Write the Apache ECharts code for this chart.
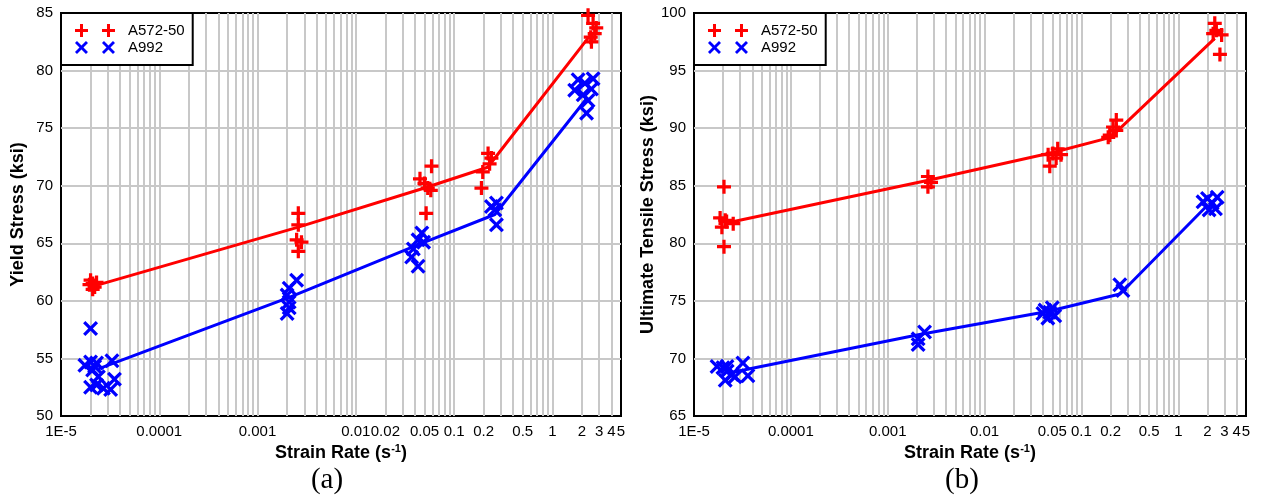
<!DOCTYPE html>
<html>
<head>
<meta charset="utf-8">
<title>Strain rate effect on A572-50 and A992</title>
<script src="https://cdn.jsdelivr.net/npm/echarts@6.0.0/dist/echarts.min.js"></script>
<style>
  html, body { margin: 0; padding: 0; background: #fff; }
  #main { width: 1262px; height: 501px; }
</style>
</head>
<body>
<div id="main"></div>
<script>
// (a) yield stress, points are [strain rate (1/s), ksi]
var yieldA572 = [
    [2.0e-5, 61.8], [2.1e-5, 61.5], [2.2e-5, 61.2], [2.1e-5, 61.0], [2.3e-5, 61.6], [1.95e-5, 61.4],
    [0.0026, 67.6], [0.0026, 66.6], [0.0025, 65.3], [0.0028, 65.1], [0.0026, 64.3],
    [0.045, 70.6], [0.05, 70.2], [0.054, 69.8], [0.058, 69.6], [0.059, 71.7], [0.052, 67.6],
    [0.19, 69.8], [0.196, 71.2], [0.222, 72.8], [0.24, 72.4], [0.23, 71.9],
    [2.31, 84.8], [2.6, 84.1], [2.8, 83.7], [2.46, 82.9], [2.5, 82.5], [2.7, 83.2]
];
var yieldA992 = [
    [1.75e-5, 54.4], [2.0e-5, 57.6], [2.0e-5, 54.7], [2.2e-5, 54.3], [2.3e-5, 54.6], [2.0e-5, 52.5],
    [2.4e-5, 53.4], [2.7e-5, 52.4], [3.2e-5, 52.3], [3.3e-5, 54.8], [3.5e-5, 53.2], [2.3e-5, 52.7], [2.1e-5, 54.0],
    [0.0025, 61.8], [0.0021, 61.1], [0.002, 60.5], [0.0021, 59.9], [0.0021, 59.4], [0.002, 58.9],
    [0.047, 65.9], [0.043, 65.3], [0.049, 65.1], [0.0385, 64.5], [0.037, 63.8], [0.043, 63.0],
    [0.24, 68.2], [0.27, 68.5], [0.26, 67.9], [0.27, 66.6],
    [1.83, 79.2], [1.69, 78.3], [2.14, 78.9], [2.6, 79.3], [2.5, 78.4], [2.31, 77.4], [2.23, 76.3], [2.06, 77.9]
];
var yieldA572Fit = [[2.2e-5, 61.3], [0.0026, 66.4], [0.05, 69.8], [0.22, 71.6], [2.45, 83.1]];
var yieldA992Fit = [[2.4e-5, 54.1], [0.0021, 60.3], [0.044, 64.9], [0.26, 67.5], [2.3, 77.7]];

// (b) ultimate tensile stress
var utsA572 = [
    [2.04e-5, 84.9], [1.86e-5, 82.2], [2.17e-5, 81.9], [2.54e-5, 81.7], [1.94e-5, 81.4], [2.04e-5, 79.7], [2.1e-5, 82.0],
    [0.0026, 85.8], [0.0028, 85.3], [0.0026, 84.9],
    [0.0569, 88.2], [0.0507, 87.8], [0.0616, 87.7], [0.0453, 87.7], [0.0471, 86.7], [0.0548, 87.4],
    [0.229, 90.7], [0.212, 90.1], [0.196, 89.4], [0.189, 89.2], [0.229, 89.8],
    [2.38, 99.1], [2.47, 98.5], [2.8, 98.1], [2.69, 96.4], [2.29, 98.2]
];
var utsA992 = [
    [1.73e-5, 69.3], [1.99e-5, 69.2], [2.19e-5, 69.3], [2.1e-5, 68.1], [2.47e-5, 68.6], [2.65e-5, 68.4],
    [3.2e-5, 69.6], [3.6e-5, 68.5], [2.2e-5, 68.9],
    [0.0024, 72.3], [0.00206, 71.7], [0.00206, 71.2],
    [0.042, 74.2], [0.047, 74.0], [0.045, 73.5], [0.05, 74.4], [0.04, 73.9], [0.053, 73.7],
    [0.249, 76.4], [0.268, 75.9],
    [1.8, 83.6], [2.0, 83.9], [2.24, 83.5], [2.52, 84.0], [2.08, 82.9], [2.42, 83.0]
];
var utsA572Fit = [[2.3e-5, 81.8], [0.0027, 85.5], [0.052, 87.9], [0.2, 89.2], [2.38, 97.8]];
var utsA992Fit = [[2.5e-5, 68.8], [0.0022, 72.1], [0.046, 74.1], [0.25, 75.6], [2.0, 83.3]];

// strain rate tick labels
var rateLabelsA = ['1E-5', '0.0001', '0.001', '0.01', '0.02', '0.05', '0.1', '0.2', '0.5', '1', '2', '3', '4', '5'];
var rateLabelsB = ['1E-5', '0.0001', '0.001', '0.01', '0.05', '0.1', '0.2', '0.5', '1', '2', '3', '4', '5'];
var rateRange = [1e-5, 5];
var yieldRange = [50, 85];
var utsRange = [65, 100];

var FONT = 'Liberation Sans, Arial, sans-serif';
var GRID_COLOR = '#c8c8c8';
var plusPath = 'path://M5,0h3v5h5v3h-5v5h-3v-5h-5v-3h5z';
var crossPath = 'path://M0,2L2,0L6.5,4.5L11,0L13,2L8.5,6.5L13,11L11,13L6.5,8.5L2,13L0,11L4.5,6.5z';
// legend shows two markers per entry
var plusPair = 'path://M5,0h3v5h5v3h-5v5h-3v-5h-5v-3h5zM32,0h3v5h5v3h-5v5h-3v-5h-5v-3h5zM48,6h0.01v0.01z';
var crossPair = 'path://M0,2L2,0L6.5,4.5L11,0L13,2L8.5,6.5L13,11L11,13L6.5,8.5L2,13L0,11L4.5,6.5z' +
    'M27,2L29,0L33.5,4.5L38,0L40,2L35.5,6.5L40,11L38,13L33.5,8.5L29,13L27,11L31.5,6.5zM48,6h0.01v0.01z';

// log grid lines 1..9 x 10^k, labelled where the figure has a label
function rateLines(labels) {
    var items = [];
    for (var k = -5; k <= 0; k++) {
        for (var m = 1; m <= 9; m++) {
            var v = Number((m * Math.pow(10, k)).toPrecision(6));
            if (v > rateRange[1] * 1.0001) continue;
            var txt = '';
            labels.forEach(function (l) {
                if (Math.abs(parseFloat(l) - v) < v * 1e-6) txt = l;
            });
            var edge = (v === rateRange[0] || v === rateRange[1]);
            items.push({
                xAxis: v,
                name: txt,
                lineStyle: { width: edge ? 0 : 2 },
                label: { show: txt !== '' }
            });
        }
    }
    return items;
}

function panelSeries(i, a572, a992, a572Fit, a992Fit, labels) {
    return [{
        type: 'line', name: 'grid' + i, xAxisIndex: i, yAxisIndex: i,
        data: [], clip: false, silent: true, z: 1,
        markLine: {
            silent: true, z: 1, symbol: 'none', animation: false, precision: 10,
            lineStyle: { type: 'solid', color: GRID_COLOR, width: 2 },
            label: {
                position: 'start', distance: 8, color: '#000', fontSize: 15, fontFamily: FONT,
                formatter: function (p) { return p.name; }
            },
            emphasis: { disabled: true },
            data: rateLines(labels)
        }
    }, {
        type: 'line', name: 'A572-50 fit', xAxisIndex: i, yAxisIndex: i,
        data: a572Fit, symbol: 'none', z: 2,
        lineStyle: { color: '#ff0000', width: 3 }, itemStyle: { color: '#ff0000' }
    }, {
        type: 'line', name: 'A992 fit', xAxisIndex: i, yAxisIndex: i,
        data: a992Fit, symbol: 'none', z: 2,
        lineStyle: { color: '#0000ff', width: 3 }, itemStyle: { color: '#0000ff' }
    }, {
        type: 'scatter', name: 'A572-50', xAxisIndex: i, yAxisIndex: i,
        data: a572, symbol: plusPath, symbolSize: 14, clip: false, z: 3,
        itemStyle: { color: '#ff0000', opacity: 1 }
    }, {
        type: 'scatter', name: 'A992', xAxisIndex: i, yAxisIndex: i,
        data: a992, symbol: crossPath, symbolSize: 15, clip: false, z: 3,
        itemStyle: { color: '#0000ff', opacity: 1 }
    }];
}

function rateAxis(i) {
    return {
        type: 'log', logBase: 10, gridIndex: i,
        min: rateRange[0], max: rateRange[1],
        name: 'Strain Rate (s{sup|-1})', nameLocation: 'middle', nameGap: 27,
        nameTextStyle: {
            fontSize: 18, fontWeight: 'bold', color: '#000', fontFamily: FONT,
            rich: { sup: { fontSize: 11, fontWeight: 'bold', color: '#000', fontFamily: FONT, padding: [0, 0, 9, 0] } }
        },
        axisLine: { show: false }, axisTick: { show: false },
        axisLabel: { show: false }, splitLine: { show: false }
    };
}

function stressAxis(i, range, title, gap) {
    return {
        type: 'value', gridIndex: i, min: range[0], max: range[1], interval: 5,
        name: title, nameLocation: 'middle', nameGap: gap,
        nameTextStyle: { fontSize: 18, fontWeight: 'bold', color: '#000', fontFamily: FONT },
        axisLine: { show: false }, axisTick: { show: false },
        axisLabel: { color: '#000', fontSize: 15, fontFamily: FONT, margin: 8 },
        splitLine: { showMinLine: false, showMaxLine: false, lineStyle: { color: GRID_COLOR, width: 2 } }
    };
}

function legendAt(left) {
    return {
        left: left, top: 13, orient: 'vertical',
        backgroundColor: '#fff', borderColor: '#000', borderWidth: 2,
        padding: [10, 8, 10, 14], itemGap: 2, itemWidth: 48, itemHeight: 13,
        textStyle: { fontSize: 15, color: '#000', fontFamily: FONT },
        selectedMode: false,
        data: [{ name: 'A572-50', icon: plusPair }, { name: 'A992', icon: crossPair }]
    };
}

var chart = echarts.init(document.getElementById('main'));
var option = {
    animation: false,
    backgroundColor: '#fff',
    grid: [
        { left: 61, top: 13, width: 560, height: 403, show: true, borderColor: '#000', borderWidth: 2 },
        { left: 694, top: 13, width: 552, height: 403, show: true, borderColor: '#000', borderWidth: 2 }
    ],
    xAxis: [rateAxis(0), rateAxis(1)],
    yAxis: [
        stressAxis(0, yieldRange, 'Yield Stress (ksi)', 34),
        stressAxis(1, utsRange, 'Ultimate Tensile Stress (ksi)', 37)
    ],
    legend: [legendAt(61), legendAt(694)],
    graphic: [
        { type: 'text', x: 327, y: 480, style: { text: '(a)', font: '29px "Liberation Serif", "Times New Roman", serif', fill: '#000', textAlign: 'center', textVerticalAlign: 'middle' } },
        { type: 'text', x: 962, y: 480, style: { text: '(b)', font: '29px "Liberation Serif", "Times New Roman", serif', fill: '#000', textAlign: 'center', textVerticalAlign: 'middle' } }
    ],
    series: panelSeries(0, yieldA572, yieldA992, yieldA572Fit, yieldA992Fit, rateLabelsA)
        .concat(panelSeries(1, utsA572, utsA992, utsA572Fit, utsA992Fit, rateLabelsB))
};
chart.setOption(option);
</script>
</body>
</html>
